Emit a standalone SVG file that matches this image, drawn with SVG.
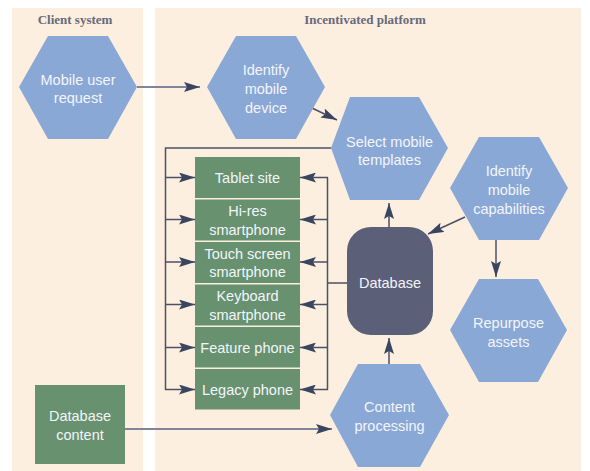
<svg xmlns="http://www.w3.org/2000/svg" width="590" height="471" viewBox="0 0 590 471">
<style>
.panel{fill:#fdefdf}
.hdr{font-family:"Liberation Serif",serif;font-weight:bold;font-size:13px;fill:#676a7c;text-anchor:middle}
.hex{fill:#8aa8d6}
.grn{fill:#67916f}
.db{fill:#5b6078}
.t{font-family:"Liberation Sans",Arial,sans-serif;font-size:14.5px;fill:#f3f5fa;text-anchor:middle}
.ln{fill:none;stroke:#4a5166;stroke-width:1.5}
.lg{fill:none;stroke:#80859a;stroke-width:1.8}
</style>
<defs>
<marker id="ah" viewBox="0 0 16 10" markerWidth="16" markerHeight="10" refX="16" refY="5" orient="auto" markerUnits="userSpaceOnUse">
<path d="M0,0 L16,5 L0,10 L3,5 z" fill="#3a4560"/>
</marker>
</defs>
<rect class="panel" x="12" y="8" width="131" height="463"/>
<rect class="panel" x="155" y="8" width="426" height="463"/>
<text class="hdr" x="75" y="24">Client system</text>
<text class="hdr" x="365" y="24">Incentivated platform</text>

<g id="connectors">
<path class="lg" d="M137,87 H200" marker-end="url(#ah)"/>
<path class="ln" d="M312,108 L337,120" marker-end="url(#ah)"/>
<path class="ln" d="M389,227 V203" marker-end="url(#ah)"/>
<path class="ln" d="M465,217 L428,234" marker-end="url(#ah)"/>
<path class="ln" d="M496,240 V277" marker-end="url(#ah)"/>
<path class="ln" d="M389,364 V338" marker-end="url(#ah)"/>
<path class="lg" d="M125,429 H332" marker-end="url(#ah)"/>
<path class="ln" d="M331,148 H165.5 V390"/>
<path class="ln" d="M165,177.5 H195" marker-end="url(#ah)"/>
<path class="ln" d="M165,219.5 H195" marker-end="url(#ah)"/>
<path class="ln" d="M165,262 H195" marker-end="url(#ah)"/>
<path class="ln" d="M165,304.5 H195" marker-end="url(#ah)"/>
<path class="ln" d="M165,347.5 H195" marker-end="url(#ah)"/>
<path class="ln" d="M165,389.5 H195" marker-end="url(#ah)"/>
<path class="ln" d="M347,283 H327.5 M327.5,177.5 V389.5"/>
<path class="ln" d="M328,177.5 H300" marker-end="url(#ah)"/>
<path class="ln" d="M328,219.5 H300" marker-end="url(#ah)"/>
<path class="ln" d="M328,262 H300" marker-end="url(#ah)"/>
<path class="ln" d="M328,304.5 H300" marker-end="url(#ah)"/>
<path class="ln" d="M328,347.5 H300" marker-end="url(#ah)"/>
<path class="ln" d="M328,389.5 H300" marker-end="url(#ah)"/>
</g>

<g id="mobile-user-request">
<polygon class="hex" points="19,87 48,36 108,36 137,87 108,139 48,139"/>
<text class="t" x="78" y="85">Mobile user</text>
<text class="t" x="78" y="103">request</text>
</g>
<g id="identify-mobile-device">
<polygon class="hex" points="207,87 236,36 296,36 325,87 296,139 236,139"/>
<text class="t" x="266" y="75">Identify</text>
<text class="t" x="266" y="94">mobile</text>
<text class="t" x="266" y="113">device</text>
</g>
<g id="select-mobile-templates">
<polygon class="hex" points="331,148 350,97 419,97 448,148 419,200 350,200"/>
<text class="t" x="389.5" y="147">Select mobile</text>
<text class="t" x="389.5" y="165">templates</text>
</g>
<g id="identify-mobile-capabilities">
<polygon class="hex" points="450,188 479,137 539,137 568,188 539,240 479,240"/>
<text class="t" x="509" y="176">Identify</text>
<text class="t" x="509" y="195">mobile</text>
<text class="t" x="509" y="214">capabilities</text>
</g>
<g id="repurpose-assets">
<polygon class="hex" points="450,330 479,279 538,279 567,330 538,382 479,382"/>
<text class="t" x="508.5" y="328">Repurpose</text>
<text class="t" x="508.5" y="347">assets</text>
</g>
<g id="content-processing">
<polygon class="hex" points="330,415 358,364 420,364 449,415 420,467 358,467"/>
<text class="t" x="389.5" y="412">Content</text>
<text class="t" x="389.5" y="431">processing</text>
</g>
<g id="database">
<rect class="db" x="347" y="227" width="86" height="108" rx="24" ry="24"/>
<text class="t" x="390" y="288">Database</text>
</g>
<g id="tablet-site">
<rect class="grn" x="195" y="157" width="105" height="41"/>
<text class="t" x="247.5" y="183">Tablet site</text>
</g>
<g id="hi-res-smartphone">
<rect class="grn" x="195" y="199.5" width="105" height="41"/>
<text class="t" x="247.5" y="216">Hi-res</text>
<text class="t" x="247.5" y="234.5">smartphone</text>
</g>
<g id="touch-screen-smartphone">
<rect class="grn" x="195" y="242" width="105" height="41"/>
<text class="t" x="247.5" y="258.5">Touch screen</text>
<text class="t" x="247.5" y="277">smartphone</text>
</g>
<g id="keyboard-smartphone">
<rect class="grn" x="195" y="284.5" width="105" height="41"/>
<text class="t" x="247.5" y="301">Keyboard</text>
<text class="t" x="247.5" y="319.5">smartphone</text>
</g>
<g id="feature-phone">
<rect class="grn" x="195" y="327" width="105" height="40.5"/>
<text class="t" x="247.5" y="353">Feature phone</text>
</g>
<g id="legacy-phone">
<rect class="grn" x="195" y="369" width="105" height="40.5"/>
<text class="t" x="247.5" y="395">Legacy phone</text>
</g>
<g id="database-content">
<rect class="grn" x="35" y="385" width="90" height="79"/>
<text class="t" x="80" y="421">Database</text>
<text class="t" x="80" y="440">content</text>
</g>
</svg>
